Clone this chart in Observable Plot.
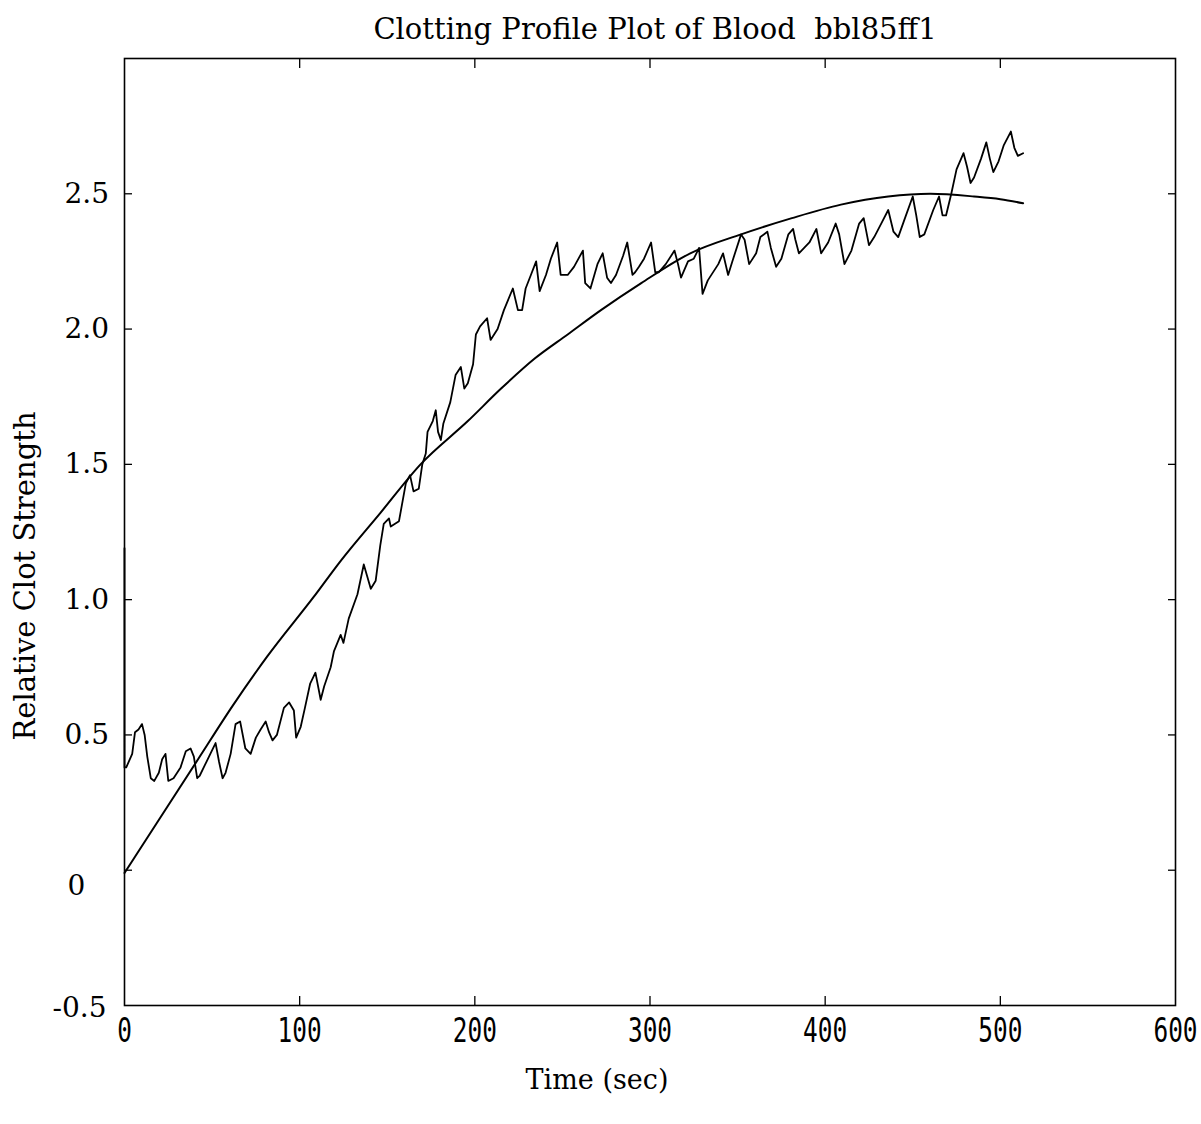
<!DOCTYPE html>
<html>
<head>
<meta charset="utf-8">
<script src="https://cdn.jsdelivr.net/npm/d3@7"></script>
<script src="https://cdn.jsdelivr.net/npm/@observablehq/plot@0.6"></script>
<style>
  html, body { margin: 0; padding: 0; background: #fff; }
  svg { display: block; }
</style>
</head>
<body>
<div id="chart"></div>
<script>
const titleText = "Clotting Profile Plot of Blood  bbl85ff1";
const xLabel = "Time (sec)";
const yLabel = "Relative Clot Strength";

const xTicks = [0, 100, 200, 300, 400, 500, 600];
const xInnerTicks = [100, 200, 300, 400, 500];
const yTicks = [0, 0.5, 1.0, 1.5, 2.0, 2.5];
const yMidTicks = [0.5, 1.0, 1.5, 2.0, 2.5];
const yMidLabels = ["0.5", "1.0", "1.5", "2.0", "2.5"];
const yZeroTick = [0];
const yZeroLabel = ["0"];
const yBottomTick = [-0.5];
const yBottomLabel = ["-0.5"];

// measured clot strength (noisy trace)
const measuredTime = [0,0,1,4.4,6,8,10,11.5,13,15,17,19.6,21.5,23.4,25,28,32,35,37.7,39.6,41.5,43,46,49,52,54,56,57.7,60.6,63.4,66,69,72,75,77.7,80.6,82.5,84.5,87,91,94,96.7,98,100.6,103,106,109,112,114,117.7,119.6,123.4,125,128,133,136.6,140.6,143.4,146,148,151,152,156.7,160.6,163,165,168,170,172,173,176,177.7,179,180.6,182,186,189,192,194,196,199,200.6,203,207,209,213,216.6,221.7,224.6,227,229,232,235,237,240.6,243.4,247,249,253,256.6,261.7,263,266,270,273,275.5,277.7,280.6,284.6,287,290,291.5,293.7,296.6,300.6,303,305,309,314,316,317.7,321.7,325,328,330,333,339,341.7,344.6,347,352,354,356.6,360.6,363,367,369,372,375,379,381.7,383,385,388,391,395,397.7,401.7,406,408,411,415,419.4,422,425,428,432,436,439,441.7,445,450,452,454,456.6,461.7,465,467,469,472,475,479,481,483,485,489,492,494,496,499,502,506,508,510,513];
const measuredStrength = [1.19,0.38,0.38,0.43,0.51,0.52,0.54,0.50,0.42,0.34,0.33,0.36,0.41,0.43,0.33,0.34,0.38,0.44,0.45,0.42,0.34,0.35,0.39,0.43,0.47,0.40,0.34,0.36,0.43,0.54,0.55,0.45,0.43,0.49,0.52,0.55,0.51,0.48,0.50,0.60,0.62,0.59,0.49,0.53,0.60,0.69,0.73,0.63,0.68,0.75,0.81,0.87,0.84,0.93,1.02,1.13,1.04,1.07,1.20,1.28,1.30,1.27,1.29,1.43,1.46,1.40,1.41,1.50,1.54,1.62,1.66,1.70,1.62,1.59,1.65,1.73,1.83,1.86,1.78,1.80,1.87,1.98,2.01,2.04,1.96,2.00,2.07,2.15,2.07,2.07,2.15,2.20,2.25,2.14,2.20,2.26,2.32,2.20,2.20,2.23,2.29,2.17,2.15,2.24,2.28,2.19,2.17,2.20,2.27,2.32,2.20,2.21,2.23,2.26,2.32,2.21,2.21,2.24,2.29,2.24,2.19,2.25,2.26,2.30,2.13,2.18,2.24,2.28,2.20,2.25,2.35,2.33,2.24,2.28,2.34,2.36,2.30,2.23,2.26,2.35,2.37,2.33,2.28,2.30,2.32,2.37,2.28,2.32,2.39,2.35,2.24,2.29,2.39,2.41,2.31,2.34,2.39,2.44,2.36,2.34,2.40,2.49,2.42,2.34,2.35,2.44,2.49,2.42,2.42,2.50,2.59,2.65,2.60,2.54,2.56,2.63,2.69,2.63,2.58,2.62,2.68,2.73,2.67,2.64,2.65];

// fitted profile (smooth curve)
const fitTime = [0,42,62,81.5,108,123,146,169,196,215,234,253,272,295,323,352,381,409,436,460,485,500,513];
const fitStrength = [-0.01,0.41,0.61,0.79,1.01,1.14,1.32,1.50,1.66,1.78,1.89,1.98,2.07,2.17,2.28,2.35,2.41,2.46,2.49,2.50,2.49,2.48,2.465];

const measured = measuredTime.map((t, i) => ({t, v: measuredStrength[i]}));
const fit = fitTime.map((t, i) => ({t, v: fitStrength[i]}));

const serif = "'DejaVu Serif', 'Liberation Serif', serif";
const mono = "'DejaVu Sans Mono', 'Liberation Mono', monospace";
const blank = () => "";

const chart = Plot.plot({
  width: 1201,
  height: 1124,
  marginLeft: 124,
  marginRight: 26,
  marginTop: 58,
  marginBottom: 119,
  style: {background: "#fff", color: "#000"},
  x: {domain: [0, 600]},
  y: {domain: [-0.5, 3.0]},
  marks: [
    Plot.frame({stroke: "#000", strokeWidth: 1.6}),
    Plot.axisY(yTicks, {anchor: "left", tickSize: -8, tickFormat: blank, label: null, strokeWidth: 1.3}),
    Plot.axisY(yTicks, {anchor: "right", tickSize: -8, tickFormat: blank, label: null, strokeWidth: 1.3}),
    Plot.axisX(xInnerTicks, {anchor: "bottom", tickSize: -9, tickFormat: blank, label: null, strokeWidth: 1.3}),
    Plot.axisX(xInnerTicks, {anchor: "top", tickSize: -9, tickFormat: blank, label: null, strokeWidth: 1.3}),
    Plot.text(yMidTicks, {y: d => d, text: (d, i) => yMidLabels[i], frameAnchor: "left", dx: -60, lineAnchor: "middle", textAnchor: "start", fontFamily: serif, fontSize: 28, fill: "#000"}),
    Plot.text(yZeroTick, {y: d => d, text: (d, i) => yZeroLabel[i], frameAnchor: "left", dx: -57, dy: 16, lineAnchor: "middle", textAnchor: "start", fontFamily: serif, fontSize: 28, fill: "#000"}),
    Plot.text(yBottomTick, {y: d => d, text: (d, i) => yBottomLabel[i], frameAnchor: "left", dx: -72, dy: 3, lineAnchor: "middle", textAnchor: "start", fontFamily: serif, fontSize: 28, fill: "#000"}),
    Plot.text(xTicks, {x: d => d, text: d => String(d), frameAnchor: "bottom", dy: 26, lineAnchor: "middle", fontFamily: mono, fontSize: 33, fill: "#000"}),
    Plot.line(fit, {x: "t", y: "v", curve: "monotone-x", stroke: "#000", strokeWidth: 2}),
    Plot.line(measured, {x: "t", y: "v", stroke: "#000", strokeWidth: 1.8}),
    Plot.text([titleText], {frameAnchor: "top", dy: -29, dx: 5, lineAnchor: "middle", fontFamily: serif, fontSize: 29, fill: "#000"}),
    Plot.text([xLabel], {frameAnchor: "bottom", dy: 75, dx: -53, lineAnchor: "middle", fontFamily: serif, fontSize: 27, fill: "#000"}),
    Plot.text([yLabel], {frameAnchor: "left", dx: -99, dy: 44, rotate: -90, textAnchor: "middle", lineAnchor: "middle", fontFamily: serif, fontSize: 29, fill: "#000"})
  ]
});
// condense the x tick labels horizontally, like the narrow typewriter digits of the original
d3.select(chart).selectAll("g").filter(function() {
  return (this.getAttribute("font-family") || "").includes("Mono");
}).selectAll("text").each(function() {
  const t = this.getAttribute("transform") || "";
  this.setAttribute("transform", t + " scale(0.74,1)");
});
document.getElementById("chart").appendChild(chart);
</script>
</body>
</html>
